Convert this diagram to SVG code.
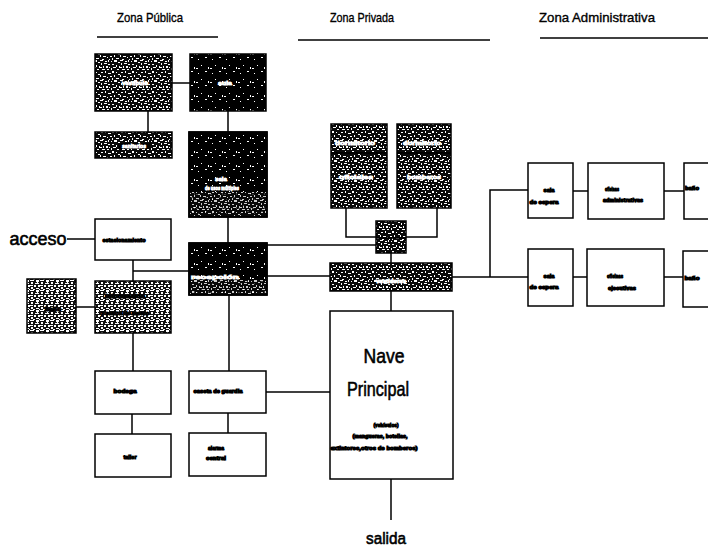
<svg xmlns="http://www.w3.org/2000/svg" width="708" height="547" viewBox="0 0 708 547">
<style>
.box{fill:#fff;stroke:#000;stroke-width:1.5}
.spk{fill:url(#spk);stroke:#000;stroke-width:1.5}
.spk2{fill:url(#spk2);stroke:#000;stroke-width:1.5}
.dk{fill:url(#dk);stroke:#000;stroke-width:1.5}
.t{font-family:"Liberation Sans",Arial,sans-serif;font-size:6px;font-weight:bold;fill:#000;stroke:#000;stroke-width:1.1;text-anchor:middle}
.w{font-family:"Liberation Sans",Arial,sans-serif;font-size:6px;font-weight:bold;fill:#fff;stroke:#fff;stroke-width:0.8;text-anchor:middle}
.h{font-family:"Liberation Sans",Arial,sans-serif;font-size:13px;fill:#000;stroke:#000;stroke-width:0.35;text-anchor:middle}
.big{font-family:"Liberation Sans",Arial,sans-serif;fill:#000;stroke:#000;stroke-width:0.6;text-anchor:middle}
.c{fill:none;stroke:#000;stroke-width:1.5}
.ul{fill:none;stroke:#000;stroke-width:1.3}
</style>
<defs>
<pattern id="spk" width="20" height="20" patternUnits="userSpaceOnUse">
<rect width="20" height="20" fill="#0a0a0a"/>
<g fill="#fff">
<rect x="0" y="0" width="3" height="1"/><rect x="5" y="1" width="2" height="1"/><rect x="8" y="0" width="1" height="2"/>
<rect x="1" y="3" width="1" height="2"/><rect x="4" y="3" width="3" height="1"/><rect x="8" y="4" width="2" height="1"/>
<rect x="0" y="7" width="2" height="1"/><rect x="3" y="6" width="1" height="2"/><rect x="6" y="6" width="2" height="2"/>
<rect x="2" y="9" width="3" height="1"/><rect x="7" y="9" width="2" height="1"/><rect x="9" y="7" width="1" height="1"/>
<rect x="11" y="1" width="1" height="1"/><rect x="14" y="0" width="3" height="2"/><rect x="18" y="2" width="2" height="1"/>
<rect x="12" y="4" width="2" height="1"/><rect x="16" y="5" width="1" height="2"/><rect x="19" y="6" width="1" height="2"/>
<rect x="11" y="8" width="1" height="2"/><rect x="13" y="7" width="3" height="1"/><rect x="17" y="9" width="2" height="1"/>
<rect x="1" y="12" width="2" height="1"/><rect x="5" y="11" width="1" height="2"/><rect x="8" y="13" width="3" height="1"/>
<rect x="12" y="11" width="2" height="2"/><rect x="16" y="12" width="1" height="1"/><rect x="18" y="14" width="2" height="1"/>
<rect x="0" y="15" width="1" height="2"/><rect x="3" y="16" width="3" height="1"/><rect x="7" y="17" width="1" height="1"/>
<rect x="10" y="16" width="2" height="1"/><rect x="14" y="15" width="1" height="2"/><rect x="16" y="18" width="3" height="1"/>
<rect x="2" y="19" width="2" height="1"/><rect x="9" y="19" width="1" height="1"/><rect x="12" y="18" width="1" height="2"/>
</g>
</pattern>
<pattern id="spk2" width="10" height="10" patternUnits="userSpaceOnUse">
<rect width="10" height="10" fill="#111"/>
<g fill="#fff">
<rect x="0" y="0" width="4" height="1"/><rect x="6" y="0" width="3" height="2"/><rect x="1" y="2" width="2" height="2"/>
<rect x="5" y="3" width="4" height="1"/><rect x="0" y="5" width="3" height="1"/><rect x="4" y="5" width="2" height="2"/>
<rect x="8" y="5" width="2" height="2"/><rect x="1" y="7" width="2" height="2"/><rect x="6" y="8" width="3" height="1"/>
<rect x="3" y="9" width="2" height="1"/><rect x="9" y="9" width="1" height="1"/><rect x="7" y="2" width="1" height="1"/>
</g>
</pattern>
<pattern id="dk" width="14" height="14" patternUnits="userSpaceOnUse">
<rect width="14" height="14" fill="#000"/>
<g fill="#fff">
<rect x="2" y="3" width="1" height="1"/><rect x="9" y="1" width="2" height="1"/><rect x="5" y="9" width="1" height="1"/>
<rect x="12" y="11" width="1" height="2"/><rect x="0" y="12" width="2" height="1"/>
</g>
</pattern>
</defs>

<g id="headers">
<text class="h" x="150" y="22" textLength="66" lengthAdjust="spacingAndGlyphs">Zona Pública</text>
<path class="ul" d="M97,37 H218"/>
<text class="h" x="362" y="22" textLength="64" lengthAdjust="spacingAndGlyphs">Zona Privada</text>
<path class="ul" d="M298,40 H490"/>
<text class="h" x="597" y="22" textLength="116" lengthAdjust="spacingAndGlyphs">Zona Administrativa</text>
<path class="ul" d="M540,38 H708"/>
</g>

<g id="connectors">
<path class="c" d="M172,83 H190"/>
<path class="c" d="M148,111 V132"/>
<path class="c" d="M228,111 V132"/>
<path class="c" d="M228,217 V243"/>
<path class="c" d="M67,239 H95"/>
<path class="c" d="M133,260 V281"/>
<path class="c" d="M133,271 H189"/>
<path class="c" d="M76,307 H95"/>
<path class="c" d="M133,333 V371"/>
<path class="c" d="M132,414 V434"/>
<path class="c" d="M229,295 V371"/>
<path class="c" d="M228,413 V433"/>
<path class="c" d="M266,392 H330"/>
<path class="c" d="M267,245 H376"/>
<path class="c" d="M346,208 V237 H376"/>
<path class="c" d="M437,208 V237 H406"/>
<path class="c" d="M391,253 V263"/>
<path class="c" d="M267,276 H330"/>
<path class="c" d="M452,277 H528"/>
<path class="c" d="M490,277 V190 H528"/>
<path class="c" d="M573,191 H588"/>
<path class="c" d="M664,191 H684"/>
<path class="c" d="M573,277 H587"/>
<path class="c" d="M664,277 H683"/>
<path class="c" d="M391,291 V311"/>
<path class="c" d="M391,479 V520"/>
</g>

<g id="acceso"><text class="big" x="38" y="245" font-size="18" textLength="57" lengthAdjust="spacingAndGlyphs" stroke-width="0.3">acceso</text></g>
<g id="salida"><text class="big" x="386" y="544" font-size="17" textLength="40" lengthAdjust="spacingAndGlyphs" stroke-width="0.3">salida</text></g>

<g id="nA"><rect class="spk" x="95" y="54" width="77" height="57"/><text class="w" x="135" y="85" textLength="26" lengthAdjust="spacingAndGlyphs">vestíbulo</text></g>
<g id="nB"><rect class="dk" x="190" y="54" width="76" height="57"/><text class="w" x="225" y="85" textLength="14" lengthAdjust="spacingAndGlyphs">aula</text></g>
<g id="nC"><rect class="spk" x="95" y="132" width="77" height="26"/><rect x="118" y="143" width="32" height="6" fill="#000"/><text class="w" x="134" y="148" textLength="24" lengthAdjust="spacingAndGlyphs">sanitarios</text></g>
<g id="nD"><rect class="dk" x="189" y="132" width="78" height="85"/><rect x="190" y="192" width="76" height="24" fill="url(#spk)" opacity="0.8"/><rect x="189" y="132" width="78" height="85" fill="none" stroke="#000" stroke-width="1.5"/><text class="w" x="221" y="181" textLength="12" lengthAdjust="spacingAndGlyphs">sala</text><text class="w" x="222" y="190" textLength="34" lengthAdjust="spacingAndGlyphs">de usos múltiples</text></g>
<g id="nE"><rect class="dk" x="189" y="243" width="78" height="52"/><rect x="190" y="280" width="76" height="14" fill="url(#spk)" opacity="0.8"/><rect x="189" y="243" width="78" height="52" fill="none" stroke="#000" stroke-width="1.5"/><text class="w" x="215" y="279" textLength="48" lengthAdjust="spacingAndGlyphs">recepción</text></g>

<g id="nF"><rect class="box" x="95" y="219" width="76" height="41"/><text class="t" x="124" y="242" textLength="43" lengthAdjust="spacingAndGlyphs">estacionamiento</text></g>
<g id="nG"><rect class="spk2" x="95" y="281" width="76" height="52"/><text class="t" x="125" y="298" textLength="40" lengthAdjust="spacingAndGlyphs">información</text><text class="t" x="125" y="315" textLength="48" lengthAdjust="spacingAndGlyphs">y control de acceso</text></g>
<g id="nH"><rect class="spk2" x="27" y="279" width="49" height="54"/><text class="t" x="53" y="311" textLength="16" lengthAdjust="spacingAndGlyphs">baño</text></g>
<g id="nI"><rect class="box" x="95" y="371" width="76" height="43"/><text class="t" x="125" y="393" textLength="23" lengthAdjust="spacingAndGlyphs">bodega</text></g>
<g id="nJ"><rect class="box" x="95" y="434" width="76" height="43"/><text class="t" x="130" y="459" textLength="13" lengthAdjust="spacingAndGlyphs">taller</text></g>
<g id="nK"><rect class="box" x="189" y="371" width="77" height="42"/><text class="t" x="218" y="393" textLength="49" lengthAdjust="spacingAndGlyphs">caseta de guardia</text></g>
<g id="nL"><rect class="box" x="189" y="433" width="77" height="43"/><text class="t" x="216" y="450" textLength="16" lengthAdjust="spacingAndGlyphs">alarma</text><text class="t" x="216" y="460" textLength="20" lengthAdjust="spacingAndGlyphs">central</text></g>

<g id="nM"><rect class="spk" x="331" y="124" width="56" height="84"/><path d="M331,153 H387" stroke="#000" stroke-width="2"/><text class="w" x="355" y="145" textLength="40" lengthAdjust="spacingAndGlyphs">dormitorio</text><text class="w" x="356" y="179" textLength="34" lengthAdjust="spacingAndGlyphs">oficiales</text></g>
<g id="nN"><rect class="spk" x="397" y="124" width="54" height="84"/><path d="M397,153 H451" stroke="#000" stroke-width="2"/><text class="w" x="422" y="145" textLength="38" lengthAdjust="spacingAndGlyphs">dormitorio</text><text class="w" x="424" y="179" textLength="34" lengthAdjust="spacingAndGlyphs">bomberos</text></g>
<g id="nO"><rect class="spk" x="376" y="221" width="30" height="32"/><path d="M376,238 H406" stroke="#000" stroke-width="1.5"/></g>
<g id="nP"><rect class="spk" x="330" y="263" width="122" height="28"/><text class="w" x="391" y="283" textLength="30" lengthAdjust="spacingAndGlyphs">vestidores</text></g>

<g id="nNave"><rect class="box" x="330" y="311" width="123" height="168"/>
<text class="big" x="384" y="363" font-size="21" textLength="41" lengthAdjust="spacingAndGlyphs">Nave</text>
<text class="big" x="378" y="396" font-size="21" textLength="62" lengthAdjust="spacingAndGlyphs">Principal</text>
<text class="t" x="386" y="427" textLength="25" lengthAdjust="spacingAndGlyphs">(vehículos)</text>
<text class="t" x="380" y="438" textLength="55" lengthAdjust="spacingAndGlyphs">(mangueras, botellas,</text>
<text class="t" x="374" y="450" textLength="87" lengthAdjust="spacingAndGlyphs">extintores,otros de bomberos)</text>
</g>

<g id="nQ"><rect class="box" x="528" y="163" width="45" height="55"/><text class="t" x="549" y="192" textLength="11" lengthAdjust="spacingAndGlyphs">sala</text><text class="t" x="544" y="204" textLength="29" lengthAdjust="spacingAndGlyphs">de espera</text></g>
<g id="nR"><rect class="box" x="588" y="163" width="76" height="56"/><text class="t" x="612" y="191" textLength="14" lengthAdjust="spacingAndGlyphs">oficinas</text><text class="t" x="623" y="202" textLength="40" lengthAdjust="spacingAndGlyphs">administrativas</text></g>
<g id="nS"><rect class="box" x="684" y="163" width="40" height="56"/><text class="t" x="692" y="190" textLength="14" lengthAdjust="spacingAndGlyphs">baño</text></g>
<g id="nT"><rect class="box" x="528" y="249" width="45" height="57"/><text class="t" x="549" y="278" textLength="11" lengthAdjust="spacingAndGlyphs">sala</text><text class="t" x="544" y="289" textLength="29" lengthAdjust="spacingAndGlyphs">de espera</text></g>
<g id="nU"><rect class="box" x="587" y="249" width="77" height="57"/><text class="t" x="615" y="278" textLength="16" lengthAdjust="spacingAndGlyphs">oficinas</text><text class="t" x="622" y="290" textLength="28" lengthAdjust="spacingAndGlyphs">ejecutivas</text></g>
<g id="nV"><rect class="box" x="683" y="251" width="40" height="56"/><text class="t" x="692" y="280" textLength="15" lengthAdjust="spacingAndGlyphs">baño</text></g>
</svg>
